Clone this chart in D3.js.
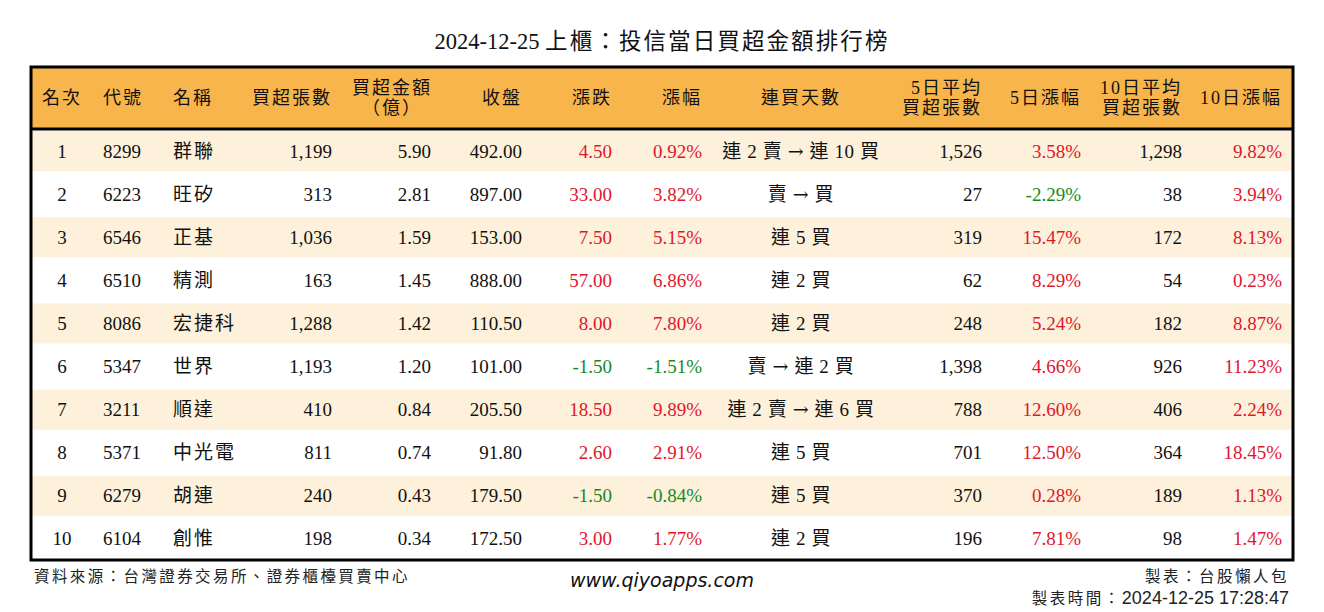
<!DOCTYPE html>
<html>
<head>
<meta charset="utf-8">
<script src="https://cdn.jsdelivr.net/npm/d3@7"></script>
<style>
  html, body { margin: 0; padding: 0; background: #fff; }
  svg text { font-family: "Liberation Serif", "Noto Sans CJK TC", serif; }
</style>
</head>
<body>
<svg id="chart" width="1324" height="612"></svg>
<script>
let svg = d3.select("#chart");

// Table values
let ranks = [1, 2, 3, 4, 5, 6, 7, 8, 9, 10];
let codes = ["8299", "6223", "6546", "6510", "8086", "5347", "3211", "5371", "6279", "6104"];
let names = ["群聯", "旺矽", "正基", "精測", "宏捷科", "世界", "順達", "中光電", "胡連", "創惟"];
let netShares = [1199, 313, 1036, 163, 1288, 1193, 410, 811, 240, 198];
let netAmounts = [5.90, 2.81, 1.59, 1.45, 1.42, 1.20, 0.84, 0.74, 0.43, 0.34];
let closes = [492.00, 897.00, 153.00, 888.00, 110.50, 101.00, 205.50, 91.80, 179.50, 172.50];
let changes = [4.50, 33.00, 7.50, 57.00, 8.00, -1.50, 18.50, 2.60, -1.50, 3.00];
let changePcts = [0.92, 3.82, 5.15, 6.86, 7.80, -1.51, 9.89, 2.91, -0.84, 1.77];
let streaks = ["連 2 賣 → 連 10 買", "賣 → 買", "連 5 買", "連 2 買", "連 2 買",
               "賣 → 連 2 買", "連 2 賣 → 連 6 買", "連 5 買", "連 5 買", "連 2 買"];
let avg5Shares = [1526, 27, 319, 62, 248, 1398, 788, 701, 370, 196];
let pct5 = [3.58, -2.29, 15.47, 8.29, 5.24, 4.66, 12.60, 12.50, 0.28, 7.81];
let avg10Shares = [1298, 38, 172, 54, 182, 926, 406, 364, 189, 98];
let pct10 = [9.82, 3.94, 8.13, 0.23, 8.87, 11.23, 2.24, 18.45, 1.13, 1.47];

let titleDate = "2024-12-25 ";
let titleText = "上櫃：投信當日買超金額排行榜";
let sourceText = "資料來源：台灣證券交易所、證券櫃檯買賣中心";
let siteText = "www.qiyoapps.com";
let makerText = "製表：台股懶人包";
let timeLabel = "製表時間：";
let timeValue = "2024-12-25 17:28:47";

let headers = [["名次"], ["代號"], ["名稱"], ["買超張數"], ["買超金額", "（億）"], ["收盤"], ["漲跌"], ["漲幅"],
               ["連買天數"], ["5日平均", "買超張數"], ["5日漲幅"], ["10日平均", "買超張數"], ["10日漲幅"]];

let red = "#e0162b", green = "#178a1e";
// plain hyphen for minus, like the source image
let locale = d3.formatLocale({ decimal: ".", thousands: ",", grouping: [3], currency: ["", ""], minus: "-" });
let fmtInt = locale.format(",");
let fmt2 = locale.format(".2f");
let signColor = v => v < 0 ? green : red;

let rows = ranks.map((r, i) => ({
    cells: [
        { t: r, x: 62, a: "middle" },
        { t: codes[i], x: 103, a: "start" },
        { t: names[i], x: 173, a: "start", cjk: true },
        { t: fmtInt(netShares[i]), x: 332, a: "end" },
        { t: fmt2(netAmounts[i]), x: 431, a: "end" },
        { t: fmt2(closes[i]), x: 522, a: "end" },
        { t: fmt2(changes[i]), x: 612, a: "end", c: signColor(changes[i]) },
        { t: fmt2(changePcts[i]) + "%", x: 702, a: "end", c: signColor(changePcts[i]) },
        { t: streaks[i], x: 801, a: "middle", streak: true },
        { t: fmtInt(avg5Shares[i]), x: 982, a: "end" },
        { t: fmt2(pct5[i]) + "%", x: 1081, a: "end", c: signColor(pct5[i]) },
        { t: fmtInt(avg10Shares[i]), x: 1182, a: "end" },
        { t: fmt2(pct10[i]) + "%", x: 1282, a: "end", c: signColor(pct10[i]) }
    ]
}));

// header anchors
let headerPos = [[62, "middle"], [103, "start"], [173, "start"], [332, "end"], [392, "middle"], [522, "end"],
                 [612, "end"], [702, "end"], [801, "middle"], [982, "end"], [1081, "end"], [1182, "end"], [1282, "end"]];

let boxLeft = 31, boxRight = 1293, boxTop = 67, headerBottom = 129, boxBottom = 560;

let y = d3.scaleBand()
    .domain(d3.range(ranks.length))
    .range([headerBottom, boxBottom]);

// Title: date in plain spacing, chinese part spaced out
let titleT = svg.append("text")
    .attr("x", 662).attr("y", 49)
    .attr("text-anchor", "middle")
    .attr("font-size", 22.5)
    .attr("fill", "#111");
titleT.append("tspan").text(titleDate);
titleT.append("tspan").attr("letter-spacing", 2.1).text(titleText);

// header background
svg.append("rect")
    .attr("x", boxLeft).attr("y", boxTop)
    .attr("width", boxRight - boxLeft).attr("height", headerBottom - boxTop)
    .attr("fill", "#f8b54b");

// row backgrounds
svg.selectAll(".rowbg")
    .data(rows)
    .enter().append("rect")
    .attr("class", "rowbg")
    .attr("x", boxLeft).attr("y", (d, i) => y(i) + 2)
    .attr("width", boxRight - boxLeft).attr("height", y.bandwidth() - 3)
    .attr("fill", (d, i) => i % 2 === 0 ? "#fdf1dc" : "#ffffff");

// header texts
headers.forEach(function (h, i) {
    let t = svg.append("text")
        .attr("x", headerPos[i][0])
        .attr("text-anchor", headerPos[i][1])
        .attr("font-size", 18)
        .attr("letter-spacing", 2)
        .attr("fill", "#111");
    if (h.length === 1) {
        t.attr("y", 104).text(h[0]);
    } else {
        t.append("tspan").attr("x", headerPos[i][0]).attr("y", 94).text(h[0]);
        t.append("tspan").attr("x", headerPos[i][0]).attr("y", 114).text(h[1]);
    }
});

// body cells
let rowG = svg.selectAll(".row")
    .data(rows)
    .enter().append("g")
    .attr("class", "row")
    .attr("transform", (d, i) => "translate(0," + (y(i) + y.bandwidth() / 2 + 7) + ")");

let cellText = rowG.selectAll("text")
    .data(d => d.cells)
    .enter().append("text")
    .attr("x", d => d.x)
    .attr("text-anchor", d => d.a)
    .attr("font-size", 19)
    .attr("letter-spacing", d => d.cjk ? 2 : (d.streak ? 0.6 : 0))
    .attr("fill", d => d.c || "#111");

cellText.filter(d => !d.streak).text(d => d.t);

// streak cells: the arrow is drawn with a font that has a long glyph
cellText.filter(d => d.streak)
    .each(function (d) {
        let el = d3.select(this);
        d.t.split(/(→)/).forEach(function (part) {
            let sp = el.append("tspan").text(part);
            if (part === "→") sp.style("font-family", "'DejaVu Serif', serif");
        });
    });

// frame
svg.append("line")
    .attr("x1", boxLeft).attr("x2", boxRight)
    .attr("y1", headerBottom).attr("y2", headerBottom)
    .attr("stroke", "#000").attr("stroke-width", 3);
svg.append("rect")
    .attr("x", boxLeft).attr("y", boxTop)
    .attr("width", boxRight - boxLeft).attr("height", boxBottom - boxTop)
    .attr("fill", "none")
    .attr("stroke", "#000").attr("stroke-width", 3);

// footer
svg.append("text")
    .attr("x", 34).attr("y", 582)
    .attr("font-size", 15.5).attr("letter-spacing", 2.4)
    .attr("fill", "#222")
    .text(sourceText);
svg.append("text")
    .attr("x", 662).attr("y", 587)
    .attr("text-anchor", "middle")
    .attr("font-size", 19)
    .attr("font-style", "italic")
    .style("font-family", "'DejaVu Sans', Verdana, sans-serif")
    .attr("fill", "#111")
    .text(siteText);
svg.append("text")
    .attr("x", 1289).attr("y", 582)
    .attr("text-anchor", "end")
    .attr("font-size", 15.5).attr("letter-spacing", 2.5)
    .attr("fill", "#222")
    .text(makerText);
let timeT = svg.append("text")
    .attr("x", 1289).attr("y", 604)
    .attr("text-anchor", "end")
    .attr("fill", "#222");
timeT.append("tspan")
    .attr("font-size", 15.5).attr("letter-spacing", 2.5)
    .text(timeLabel);
timeT.append("tspan")
    .attr("font-size", 18)
    .style("font-family", "'Liberation Sans Narrow', 'Liberation Sans', sans-serif")
    .text(timeValue);
</script>
</body>
</html>
